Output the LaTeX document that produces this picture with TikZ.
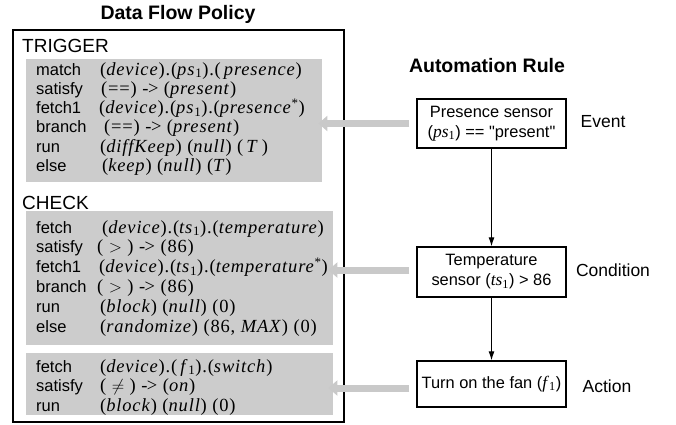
\documentclass[tikz,border=0pt]{standalone}
\usepackage{fontspec}
\setmainfont{Liberation Sans}
\newfontfamily\tms[LetterSpace=4.5]{Liberation Serif}
\newfontfamily\tmsr{Liberation Serif}
\usetikzlibrary{arrows.meta}
\newcommand\ex[1]{{\tms\fontsize{18.5}{20}\selectfont #1}}
\newcommand\exr[1]{{\tmsr\fontsize{17.5}{20}\selectfont #1}}
\newcommand\iv[1]{\textit{#1}}
\tikzset{
  title/.style={font=\bfseries\fontsize{19.5}{22}\selectfont, inner sep=0pt},
  outer/.style={draw=black, line width=1.2pt, inner sep=0pt, anchor=north west},
  graybox/.style={fill=gray!40, inner sep=0pt, anchor=north west},
  sect/.style={font=\fontsize{19}{20}\selectfont, anchor=base west, inner sep=0pt},
  kw/.style={font=\fontsize{16.5}{18}\selectfont, anchor=base west, inner sep=0pt},
  expr/.style={anchor=base west, inner sep=0pt},
  rulebox/.style={draw=black, line width=1.4pt, minimum width=149pt, inner sep=0pt, align=center, font=\fontsize{16.4}{20}\selectfont},
  lab/.style={font=\fontsize{17.5}{20}\selectfont, inner sep=0pt},
  grayarrow/.style={draw=gray!42, line width=7pt, -{Triangle[width=15pt,length=9pt]}},
  flow/.style={draw=black, line width=1pt, -{Latex[length=9pt,width=6pt]}}
}
\begin{document}
\begin{tikzpicture}[x=1pt,y=-1pt]
\useasboundingbox (0,0) rectangle (676,424);
% left part
\node[title] (dfp) at (178,14) {Data Flow Policy};
\node[outer, minimum width=331pt, minimum height=392pt] (policy) at (12.3,29.3) {};
\node[graybox, minimum width=296pt, minimum height=123pt] (g1) at (26,59) {};
\node[graybox, minimum width=307pt, minimum height=134pt] (g2) at (26,211) {};
\node[graybox, minimum width=307pt, minimum height=62pt] (g3) at (26,353) {};
\node[sect] (trig) at (22,52) {TRIGGER};
\node[sect] (chk) at (22,209) {CHECK};
% trigger rows
\node[kw] (k11) at (36,75) {match};
\node[kw] (k12) at (36,94.3) {satisfy};
\node[kw] (k13) at (36,113.6) {fetch1};
\node[kw] (k14) at (36,132.9) {branch};
\node[kw] (k15) at (36,152.2) {run};
\node[kw] (k16) at (36,171.5) {else};
\node[expr] (e11) at (100,75) {\ex{(\iv{device}).(\iv{ps}\textsubscript{1}).(\,\iv{presence})}};
\node[expr] (e12) at (101,94.3) {\ex{(==) -\kern-0.5pt> (\iv{present})}};
\node[expr] (e13) at (99,113.6) {\ex{(\iv{device}).(\iv{ps}\textsubscript{1}).(\iv{presence}\textsuperscript{*})}};
\node[expr] (e14) at (104,132.9) {\ex{(==) -\kern-0.5pt> (\iv{present})}};
\node[expr] (e15) at (100,152.2) {\ex{(\iv{diffKeep}) (\iv{null}) (\,\iv{T}\,)}};
\node[expr] (e16) at (102,171.5) {\ex{(\iv{keep}) (\iv{null}) (\iv{T})}};
% check rows
\node[kw] (k21) at (36,233) {fetch};
\node[kw] (k22) at (36,252.8) {satisfy};
\node[kw] (k23) at (36,272.6) {fetch1};
\node[kw] (k24) at (36,292.4) {branch};
\node[kw] (k25) at (36,312.2) {run};
\node[kw] (k26) at (36,332) {else};
\node[expr] (e21) at (102,233) {\ex{(\iv{device}).(\iv{ts}\textsubscript{1}).(\iv{temperature})}};
\node[expr] (e22) at (97,252.8) {\ex{( $>$ ) -\kern-0.5pt> (86)}};
\node[expr] (e23) at (99,272.6) {\ex{(\iv{device}).(\iv{ts}\textsubscript{1}).(\iv{temperature}\textsuperscript{*})}};
\node[expr] (e24) at (97,292.4) {\ex{( $>$ ) -\kern-0.5pt> (86)}};
\node[expr] (e25) at (100,312.2) {\ex{(\iv{block}) (\iv{null}) (0)}};
\node[expr] (e26) at (100,332) {\ex{(\iv{randomize}) (86, \iv{MAX}) (0)}};
% action rows
\node[kw] (k31) at (36,372) {fetch};
\node[kw] (k32) at (36,391.5) {satisfy};
\node[kw] (k33) at (36,411) {run};
\node[expr] (e31) at (100,372) {\ex{(\iv{device}).(\,\iv{f}\textsubscript{1}).(\iv{switch})}};
\node[expr] (e32) at (100,391.5) {\ex{( $\neq$ ) -\kern-0.5pt> (\iv{on})}};
\node[expr] (e33) at (100,411) {\ex{(\iv{block}) (\iv{null}) (0)}};
% right part
\node[title] (ar) at (487,66) {Automation Rule};
\node[rulebox, minimum height=49pt] (ev) at (491.5,123.5) {Presence sensor\\(\exr{\iv{ps}\textsubscript{1}}) == \textquotedbl present\textquotedbl};
\node[rulebox, minimum height=50pt] (cond) at (491.5,272) {Temperature\\sensor (\exr{\iv{ts}\textsubscript{1}}) > 86};
\node[rulebox, minimum height=46pt] (act) at (491.5,384) {Turn on the fan (\exr{\iv{f}\textsubscript{1}})};
\node[lab] (lev) at (603,122) {Event};
\node[lab] (lcond) at (613,270) {Condition};
\node[lab] (lact) at (607,386) {Action};
\draw[flow] (ev) -- (cond);
\draw[flow] (cond) -- (act);
\draw[grayarrow, shorten <=7pt, shorten >=-4pt] (ev.west) -- (ev.west -| g1.east);
\draw[grayarrow, shorten <=7pt, shorten >=-5pt] ([yshift=2pt]cond.west) -- ([yshift=2pt]cond.west -| g2.east);
\draw[grayarrow, shorten <=7pt, shorten >=-5pt] ([yshift=-4pt]act.west) -- ([yshift=-4pt]act.west -| g3.east);
\end{tikzpicture}
\end{document}
